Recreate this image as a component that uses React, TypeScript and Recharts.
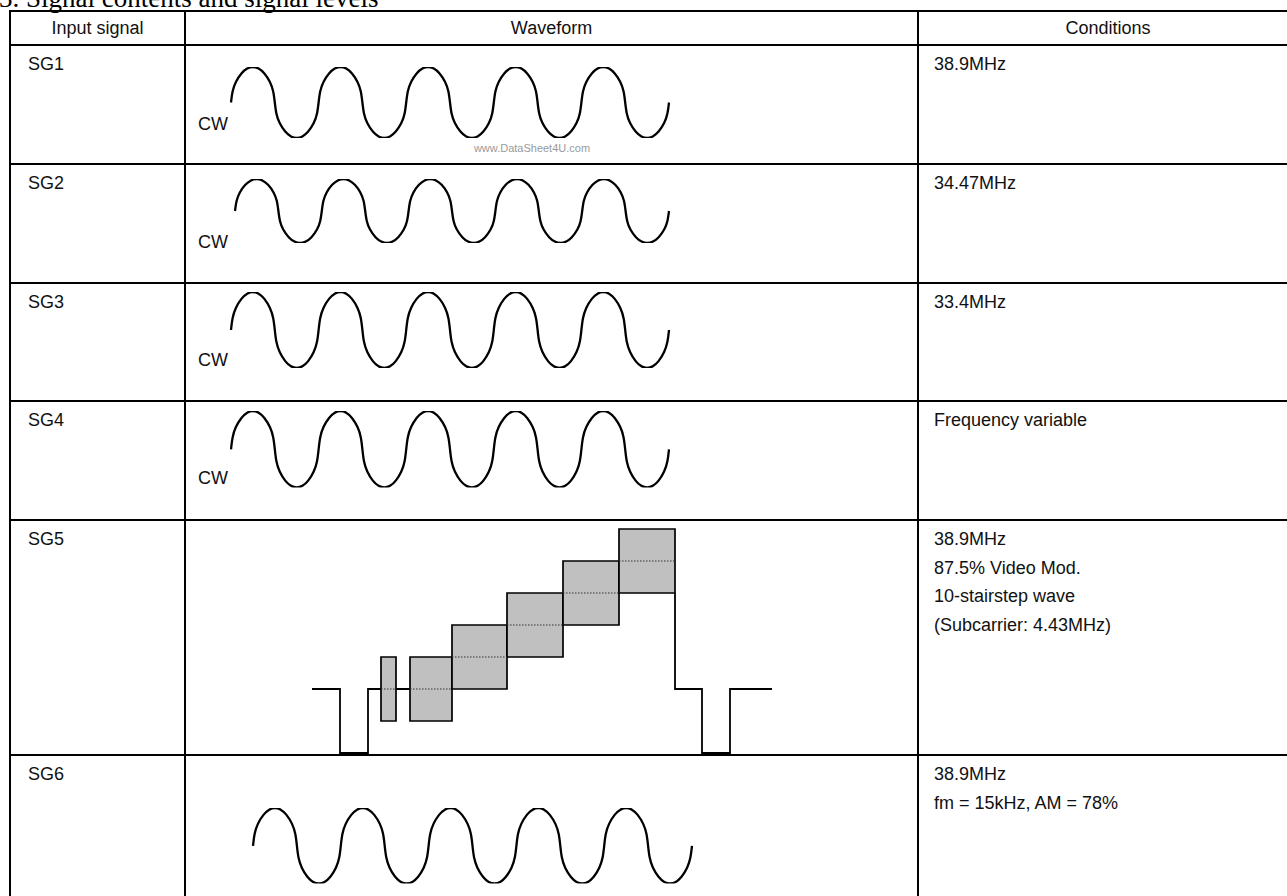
import React from "react";
import { LineChart, Line, XAxis, YAxis, ReferenceArea, ReferenceLine } from "recharts";

// CW carrier drawn in the table: phase in cycles, level in units of the peak amplitude
const cwPhase = [
  0, 0.015, 0.05, 0.12, 0.185, 0.25, 0.315, 0.38, 0.45, 0.485, 0.5, 0.515, 0.55, 0.62, 0.685, 0.75, 0.815, 0.88, 0.95, 0.985,
  1, 1.015, 1.05, 1.12, 1.185, 1.25, 1.315, 1.38, 1.45, 1.485, 1.5, 1.515, 1.55, 1.62, 1.685, 1.75, 1.815, 1.88, 1.95, 1.985,
  2, 2.015, 2.05, 2.12, 2.185, 2.25, 2.315, 2.38, 2.45, 2.485, 2.5, 2.515, 2.55, 2.62, 2.685, 2.75, 2.815, 2.88, 2.95, 2.985,
  3, 3.015, 3.05, 3.12, 3.185, 3.25, 3.315, 3.38, 3.45, 3.485, 3.5, 3.515, 3.55, 3.62, 3.685, 3.75, 3.815, 3.88, 3.95, 3.985,
  4, 4.015, 4.05, 4.12, 4.185, 4.25, 4.315, 4.38, 4.45, 4.485, 4.5, 4.515, 4.55, 4.62, 4.685, 4.75, 4.815, 4.88, 4.95, 4.985,
  5,
];
const cwLevel = [
  0, 0.32, 0.58, 0.84, 0.97, 1.01, 0.97, 0.84, 0.58, 0.32, 0, -0.32, -0.58, -0.84, -0.97, -1.01, -0.97, -0.84, -0.58, -0.32,
  0, 0.32, 0.58, 0.84, 0.97, 1.01, 0.97, 0.84, 0.58, 0.32, 0, -0.32, -0.58, -0.84, -0.97, -1.01, -0.97, -0.84, -0.58, -0.32,
  0, 0.32, 0.58, 0.84, 0.97, 1.01, 0.97, 0.84, 0.58, 0.32, 0, -0.32, -0.58, -0.84, -0.97, -1.01, -0.97, -0.84, -0.58, -0.32,
  0, 0.32, 0.58, 0.84, 0.97, 1.01, 0.97, 0.84, 0.58, 0.32, 0, -0.32, -0.58, -0.84, -0.97, -1.01, -0.97, -0.84, -0.58, -0.32,
  0, 0.32, 0.58, 0.84, 0.97, 1.01, 0.97, 0.84, 0.58, 0.32, 0, -0.32, -0.58, -0.84, -0.97, -1.01, -0.97, -0.84, -0.58, -0.32,
  0,
];

// SG5 video line: time axis (arbitrary units) and level (blanking = 0, sync = -40)
const stairT = [0, 2.8, 2.8, 5.6, 5.6, 6.9, 7.6, 8.4, 9.8, 23, 36.3, 36.3, 39.0, 39.0, 41.8, 41.8, 46.0];
const stairLevel = [0, 0, -40, -40, 0, 0, null, 0, 0, null, 60, 0, 0, -40, -40, 0, 0];

// subcarrier packets (burst + 5 steps)
const boxStart = [6.9, 9.8, 14.0, 19.5, 25.1, 30.7];
const boxEnd = [8.4, 14.0, 19.5, 25.1, 30.7, 36.3];
const boxCentre = [0, 0, 20, 40, 60, 80];
const boxHalf = 20;

const signals = ["SG1", "SG2", "SG3", "SG4", "SG5", "SG6"];
const conditions = [
  ["38.9MHz"],
  ["34.47MHz"],
  ["33.4MHz"],
  ["Frequency variable"],
  ["38.9MHz", "87.5% Video Mod.", "10-stairstep wave", "(Subcarrier: 4.43MHz)"],
  ["38.9MHz", "fm = 15kHz, AM = 78%"],
];
const headers = ["Input signal", "Waveform", "Conditions"];

const cwData = cwPhase.map((phase, i) => ({ phase, level: cwLevel[i] }));
const stairData = stairT.map((t, i) => ({ t, level: stairLevel[i] }));

// layout (px)
const rowLines = [11, 45, 164, 283, 401, 520, 755];
const colLines = [10, 185, 918];
const colCentres = [97.5, 551.5, 1108];
const cwRows = [
  { left: 231, right: 669, mid: 102.5, amp: 35.5, cw: 129.5 },
  { left: 235, right: 669, mid: 211, amp: 32, cw: 247.5 },
  { left: 231, right: 669, mid: 330.3, amp: 38, cw: 366 },
  { left: 231, right: 669, mid: 449, amp: 38.3, cw: 483.5 },
  { left: 253, right: 692, mid: 845.5, amp: 37.8, cw: null },
];

const sans = "'Liberation Sans', Arial, sans-serif";
const PAD = 4;

const CwWave = ({ left, right, mid, amp }: { left: number; right: number; mid: number; amp: number }) => (
  <div style={{ position: "absolute", left: left - PAD, top: mid - amp - PAD }}>
    <LineChart
      width={right - left + 2 * PAD}
      height={2 * amp + 2 * PAD}
      data={cwData}
      margin={{ top: PAD, right: PAD, bottom: PAD, left: PAD }}
    >
      <XAxis type="number" dataKey="phase" domain={[0, 5]} hide />
      <YAxis type="number" domain={[-1, 1]} hide allowDataOverflow />
      <Line
        dataKey="level"
        type="basis"
        stroke="#000"
        strokeWidth={2.3}
        dot={false}
        isAnimationActive={false}
      />
    </LineChart>
  </div>
);

const StairWave = () => {
  const left = 312.3;
  const top = 529.3;
  const w = 460;
  const h = 224;
  return (
    <div style={{ position: "absolute", left: left - PAD, top: top - PAD }}>
      <LineChart
        width={w + 2 * PAD}
        height={h + 2 * PAD}
        data={stairData}
        margin={{ top: PAD, right: PAD, bottom: PAD, left: PAD }}
      >
        <XAxis type="number" dataKey="t" domain={[0, 46]} hide />
        <YAxis type="number" domain={[-40, 100]} hide />
        {boxStart.map((x1, i) => (
          <ReferenceArea
            key={"b" + i}
            x1={x1}
            x2={boxEnd[i]}
            y1={boxCentre[i] - boxHalf}
            y2={boxCentre[i] + boxHalf}
            fill="#c0c0c0"
            fillOpacity={1}
            stroke="#000"
            strokeWidth={1.7}
          />
        ))}
        {boxStart.map((x1, i) => (
          <ReferenceLine
            key={"d" + i}
            segment={[
              { x: x1, y: boxCentre[i] },
              { x: boxEnd[i], y: boxCentre[i] },
            ]}
            stroke="#333"
            strokeWidth={1}
            strokeDasharray="1.5 1.5"
          />
        ))}
        <Line
          dataKey="level"
          type="linear"
          stroke="#000"
          strokeWidth={1.8}
          dot={false}
          connectNulls={false}
          isAnimationActive={false}
        />
      </LineChart>
    </div>
  );
};

export default function App() {
  return (
    <div style={{ position: "fixed", left: 0, top: 0, width: 1287, height: 896, overflow: "hidden", background: "#fff" }}>
      <svg width={1287} height={896} style={{ position: "absolute", left: 0, top: 0 }}>
        <text x={-1} y={7} fontFamily="'Liberation Serif', 'Times New Roman', serif" fontSize={27} fill="#000">
          3. Signal contents and signal levels
        </text>
        {rowLines.map((y) => (
          <line key={"r" + y} x1={9} x2={1300} y1={y} y2={y} stroke="#000" strokeWidth={2} />
        ))}
        {colLines.map((x) => (
          <line key={"c" + x} x1={x} x2={x} y1={10} y2={900} stroke="#000" strokeWidth={2} />
        ))}
        {headers.map((h, i) => (
          <text key={h} x={colCentres[i]} y={34} textAnchor="middle" fontFamily={sans} fontSize={18} fill="#111">
            {h}
          </text>
        ))}
        {signals.map((s, i) => (
          <text key={s} x={28} y={rowLines[i + 1] + 25} fontFamily={sans} fontSize={18} fill="#111">
            {s}
          </text>
        ))}
        {conditions.map((lines, i) =>
          lines.map((t, j) => (
            <text
              key={i + "-" + j}
              x={934}
              y={rowLines[i + 1] + 25 + j * 28.7}
              fontFamily={sans}
              fontSize={18}
              fill="#111"
            >
              {t}
            </text>
          ))
        )}
        {cwRows
          .filter((r) => r.cw !== null)
          .map((r, i) => (
            <text key={"cw" + i} x={198} y={r.cw as number} fontFamily={sans} fontSize={18} fill="#111">
              CW
            </text>
          ))}
        <text x={532} y={152} textAnchor="middle" fontFamily={sans} fontSize={11} fill="#9a9a9a">
          www.DataSheet4U.com
        </text>
      </svg>
      {cwRows.map((r, i) => (
        <CwWave key={i} left={r.left} right={r.right} mid={r.mid} amp={r.amp} />
      ))}
      <StairWave />
    </div>
  );
}
